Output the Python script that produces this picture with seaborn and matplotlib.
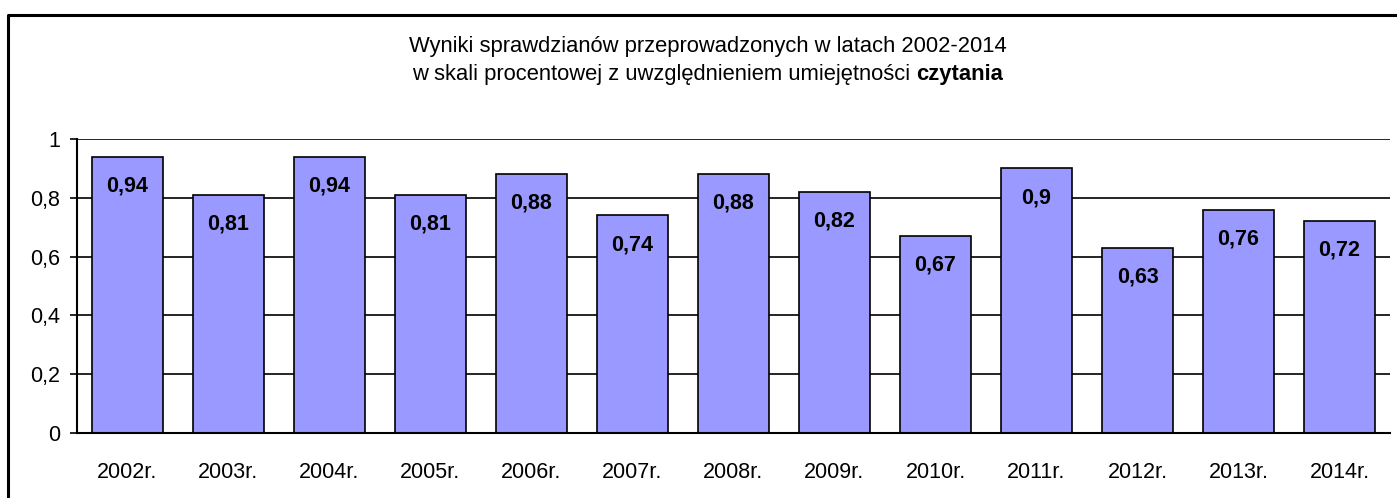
import seaborn as sns
import matplotlib.pyplot as plt
import numpy as np
import pandas as pd
from matplotlib.lines import Line2D

years = ['2002r.', '2003r.', '2004r.', '2005r.', '2006r.', '2007r.', '2008r.',
         '2009r.', '2010r.', '2011r.', '2012r.', '2013r.', '2014r.']
values = [0.94, 0.81, 0.94, 0.81, 0.88, 0.74, 0.88, 0.82, 0.67, 0.9, 0.63, 0.76, 0.72]
value_labels = ['0,94', '0,81', '0,94', '0,81', '0,88', '0,74', '0,88',
                '0,82', '0,67', '0,9', '0,63', '0,76', '0,72']
yticks = [0, 0.2, 0.4, 0.6, 0.8, 1]
ytick_labels = ['0', '0,2', '0,4', '0,6', '0,8', '1']

sns.set_theme(style='white')
plt.rcParams['font.family'] = ['Liberation Sans', 'DejaVu Sans']
plt.rcParams['text.color'] = 'black'
plt.rcParams['xtick.color'] = 'black'
plt.rcParams['ytick.color'] = 'black'

df = pd.DataFrame({'rok': years, 'wynik': values})

fig = plt.figure(figsize=(13.97, 4.98), dpi=100)
ax = fig.add_axes([0.0551, 0.1305, 0.9399, 0.5904])

sns.barplot(data=df, x='rok', y='wynik', color='#9999FF', saturation=1,
            width=0.71, edgecolor='black', linewidth=1.2, ax=ax, zorder=3)

ax.set_xlim(-0.5, len(years) - 0.5)
ax.set_ylim(0, 1)
ax.set_yticks(yticks)
ax.set_yticklabels(ytick_labels, fontsize=15.5)
ax.set_xticks(np.arange(len(years)))
ax.set_xticklabels(years, fontsize=15.5)
ax.set_xticks(np.arange(len(years) + 1) - 0.5, minor=True)
ax.tick_params(axis='x', which='major', length=0, pad=21)
ax.tick_params(axis='x', which='minor', length=5, width=1.2, color='black', direction='out')
ax.tick_params(axis='y', length=5, width=1.2, color='black', direction='out', left=True, pad=7)
ax.set_xlabel('')
ax.set_ylabel('')

for y in yticks[1:]:
    ax.axhline(y, color='black', linewidth=1.2, zorder=1)

for s in ['top', 'right']:
    ax.spines[s].set_visible(False)
for s in ['left', 'bottom']:
    ax.spines[s].set_color('black')
    ax.spines[s].set_linewidth(1.5)
    ax.spines[s].set_zorder(4)

for i, (v, lab) in enumerate(zip(values, value_labels)):
    ax.annotate(lab, (i, v), xytext=(0, -21), textcoords='offset points',
                ha='center', va='center', fontsize=15.5, fontweight='bold', zorder=5)

# title, second line with bold word
fig.text(0.5065, 0.906, 'Wyniki sprawdzianów przeprowadzonych w latach 2002-2014',
         ha='center', va='center', fontsize=15.8)
fig.canvas.draw()
r = fig.canvas.get_renderer()
t1 = fig.text(0, 0.851, 'w skali procentowej z uwzględnieniem umiejętności ',
              ha='left', va='center', fontsize=15.8)
t2 = fig.text(0, 0.851, 'czytania', ha='left', va='center', fontsize=15.8, fontweight='bold')
w1 = t1.get_window_extent(r).width
w2 = t2.get_window_extent(r).width
W = fig.bbox.width
x0 = 0.5065 * W - (w1 + w2) / 2
t1.set_x(x0 / W)
t2.set_x((x0 + w1) / W)

# chart area border (only left and top visible in the crop)
bx = 7.5 / 1397
by = 1 - 15 / 498
fig.lines.append(Line2D([bx, bx, 1.0], [0.0, by, by], transform=fig.transFigure,
                        color='black', linewidth=2.2))

fig.savefig('out.png', dpi=100)
